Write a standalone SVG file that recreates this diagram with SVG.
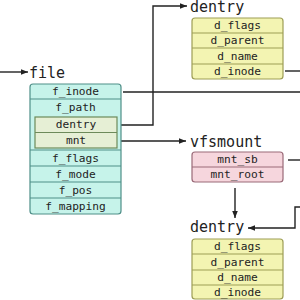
<svg xmlns="http://www.w3.org/2000/svg" width="300" height="300" viewBox="0 0 300 300">
<defs>
<marker id="ah" viewBox="0 0 10 10" refX="10" refY="5" markerWidth="7" markerHeight="7" markerUnits="userSpaceOnUse" orient="auto">
<path d="M0,1 L10,5 L0,9 Z" fill="#222"/>
</marker>
<style>
text{font-family:"DejaVu Sans Mono","Liberation Mono",monospace;fill:#222}
.t{font-size:15px}
.r{font-size:11.2px;text-anchor:middle;dominant-baseline:central}
.c{fill:none;stroke:#222;stroke-width:1.4}
.file{fill:#c6f3ea;stroke:#4f8f88;stroke-width:1.2}
.inner{fill:#e6efd5;stroke:#6d8a5a;stroke-width:1.2}
.den{fill:#f3f4b2;stroke:#9d9d55;stroke-width:1.2}
.vfs{fill:#f6d6dd;stroke:#9a6a78;stroke-width:1.2}
</style>
</defs>
<rect width="300" height="300" fill="#fff"/>
<g id="connectors">
<path class="c" d="M0,72 H28" marker-end="url(#ah)"/>
<path class="c" d="M123,92 H300"/>
<path class="c" d="M118,125 H153 V6 H187" marker-end="url(#ah)"/>
<path class="c" d="M118,141 H186" marker-end="url(#ah)"/>
<path class="c" d="M285,71 H300"/>
<path class="c" d="M288,160 H300"/>
<path class="c" d="M235,188 V218" marker-end="url(#ah)"/>
<path class="c" d="M300,207 H295 V228 H248" marker-end="url(#ah)"/>
</g>
<g id="file">
<text class="t" x="29" y="78">file</text>
<rect class="file" x="30" y="84" width="91" height="130" rx="3"/>
<path stroke="#4f8f88" stroke-width="1.2" d="M30,99 H121 M30,150 H121 M30,166 H121 M30,182 H121 M30,198 H121"/>
<text class="r" x="75.5" y="91.5">f_inode</text>
<text class="r" x="75.5" y="107.5">f_path</text>
<rect class="inner" x="35" y="117" width="82" height="31"/>
<path stroke="#6d8a5a" stroke-width="1.2" d="M35,132.5 H117"/>
<text class="r" x="76" y="124.5">dentry</text>
<text class="r" x="76" y="140">mnt</text>
<text class="r" x="75.5" y="158">f_flags</text>
<text class="r" x="75.5" y="174">f_mode</text>
<text class="r" x="75.5" y="190">f_pos</text>
<text class="r" x="75.5" y="206">f_mapping</text>
</g>
<g id="dentry1">
<text class="t" x="190" y="12">dentry</text>
<rect class="den" x="192" y="18" width="91" height="61" rx="3"/>
<path stroke="#9d9d55" stroke-width="1.2" d="M192,33 H283 M192,48 H283 M192,64 H283"/>
<text class="r" x="237.5" y="25.5">d_flags</text>
<text class="r" x="237.5" y="40.5">d_parent</text>
<text class="r" x="237.5" y="56">d_name</text>
<text class="r" x="237.5" y="71.5">d_inode</text>
</g>
<g id="vfsmount">
<text class="t" x="190" y="147">vfsmount</text>
<rect class="vfs" x="192" y="152" width="91" height="30" rx="3"/>
<path stroke="#9a6a78" stroke-width="1.2" d="M192,167 H283"/>
<text class="r" x="237.5" y="159.5">mnt_sb</text>
<text class="r" x="237.5" y="174.5">mnt_root</text>
</g>
<g id="dentry2">
<text class="t" x="190" y="232">dentry</text>
<rect class="den" x="192" y="239" width="91" height="60" rx="3"/>
<path stroke="#9d9d55" stroke-width="1.2" d="M192,254 H283 M192,270 H283 M192,285 H283"/>
<text class="r" x="237.5" y="246.5">d_flags</text>
<text class="r" x="237.5" y="262">d_parent</text>
<text class="r" x="237.5" y="277.5">d_name</text>
<text class="r" x="237.5" y="292">d_inode</text>
</g>
</svg>
